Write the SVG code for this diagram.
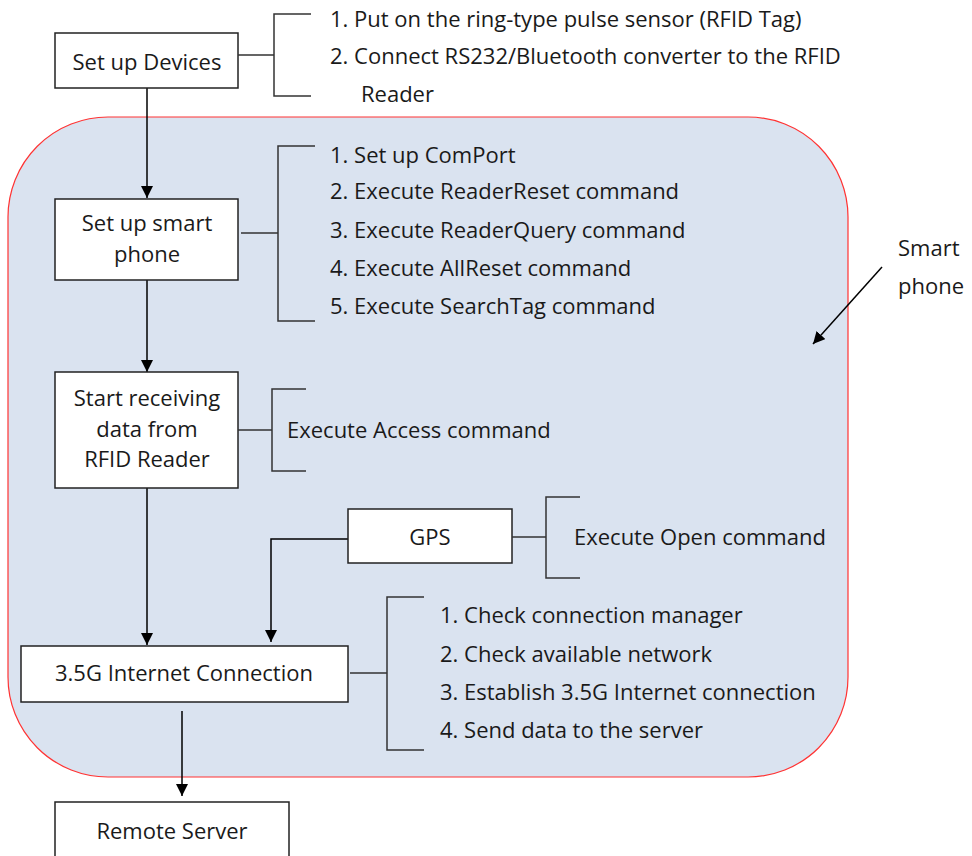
<svg xmlns="http://www.w3.org/2000/svg" width="972" height="856" viewBox="0 0 972 856">
  <defs>
    <marker id="arrow" viewBox="0 0 12 12" refX="12" refY="6" markerWidth="12" markerHeight="12" markerUnits="userSpaceOnUse" orient="auto">
      <path d="M0,0 L12,6 L0,12 Z" fill="#000"/>
    </marker>
  </defs>
  <style>
    text { font-family: "Open Sans", "Liberation Sans", sans-serif; font-size: 22px; fill: #1a1a1a; }
    .c { text-anchor: middle; }
    .box { fill: #ffffff; stroke: #222; stroke-width: 1.5; }
    .br { fill: none; stroke: #333; stroke-width: 1.5; }
    .edge { fill: none; stroke: #000; stroke-width: 1.5; marker-end: url(#arrow); }
  </style>

  <rect width="972" height="856" fill="#ffffff"/>

  <!-- smart phone region -->
  <g id="region">
    <rect x="8" y="117" width="840" height="660" rx="100" ry="100" fill="#dae3f0" stroke="#ff3333" stroke-width="1.2"/>
  </g>

  <!-- connectors -->
  <g id="connectors">
    <line class="edge" x1="147" y1="88" x2="147" y2="198"/>
    <line class="edge" x1="147" y1="280" x2="147" y2="372"/>
    <line class="edge" x1="147" y1="488" x2="147" y2="645"/>
    <polyline class="edge" points="348,539 271,539 271,642"/>
    <line class="edge" x1="182" y1="711" x2="182" y2="796"/>
    <line class="edge" x1="882" y1="267" x2="813" y2="344"/>
  </g>

  <g id="set-up-devices">
    <rect class="box" x="55" y="33" width="183" height="55"/>
    <text class="c" x="147" y="70">Set up Devices</text>
    <path class="br" d="M238,55 H274 M311,14 H274 V96 H311"/>
    <text x="330" y="27">1. Put on the ring-type pulse sensor (RFID Tag)</text>
    <text x="330" y="64">2. Connect RS232/Bluetooth converter to the RFID</text>
    <text x="361" y="102">Reader</text>
  </g>

  <g id="set-up-smart-phone">
    <rect class="box" x="55" y="199" width="183" height="81"/>
    <text class="c" x="147" y="231">Set up smart</text>
    <text class="c" x="147" y="262">phone</text>
    <path class="br" d="M241,233 H278 M315,146 H278 V321 H315"/>
    <text x="330" y="163">1. Set up ComPort</text>
    <text x="330" y="199">2. Execute ReaderReset command</text>
    <text x="330" y="238">3. Execute ReaderQuery command</text>
    <text x="330" y="276">4. Execute AllReset command</text>
    <text x="330" y="314">5. Execute SearchTag command</text>
  </g>

  <g id="start-receiving">
    <rect class="box" x="55" y="372" width="183" height="116"/>
    <text class="c" x="147" y="406">Start receiving</text>
    <text class="c" x="147" y="437">data from</text>
    <text class="c" x="147" y="467">RFID Reader</text>
    <path class="br" d="M238,430 H272 M306,389 H272 V471 H306"/>
    <text x="287" y="438">Execute Access command</text>
  </g>

  <g id="gps">
    <rect class="box" x="348" y="509" width="164" height="54"/>
    <text class="c" x="430" y="545">GPS</text>
    <path class="br" d="M512,537 H546 M580,497 H546 V578 H580"/>
    <text x="574" y="545">Execute Open command</text>
  </g>

  <g id="internet-connection">
    <rect class="box" x="21" y="646" width="327" height="56"/>
    <text class="c" x="184" y="681">3.5G Internet Connection</text>
    <path class="br" d="M350,673 H387 M424,597 H387 V750 H424"/>
    <text x="440" y="623">1. Check connection manager</text>
    <text x="440" y="662">2. Check available network</text>
    <text x="440" y="700">3. Establish 3.5G Internet connection</text>
    <text x="440" y="738">4. Send data to the server</text>
  </g>

  <g id="remote-server">
    <rect class="box" x="55" y="802" width="234" height="70"/>
    <text class="c" x="172" y="839">Remote Server</text>
  </g>

  <g id="smart-phone-label">
    <text x="898" y="256">Smart</text>
    <text x="898" y="294">phone</text>
  </g>
</svg>
